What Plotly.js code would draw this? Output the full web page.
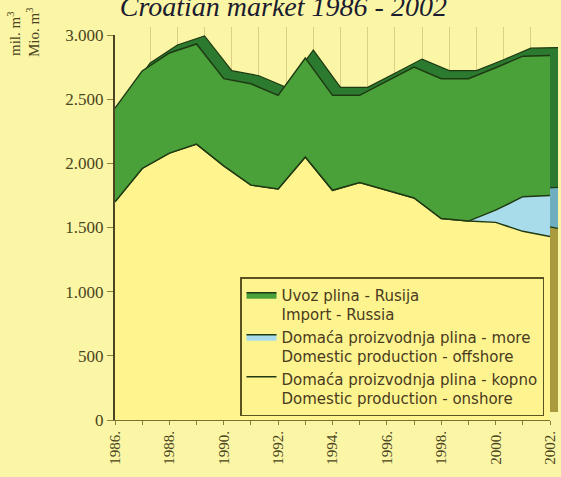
<!DOCTYPE html>
<html><head><meta charset="utf-8">
<script src="https://cdn.plot.ly/plotly-3.0.1.min.js"></script>
<style>html,body{margin:0;padding:0;background:#fbf6a6;}#c{width:561px;height:477px;}</style>
</head><body><div id="c"></div>
<script>
const years = [1986,1987,1988,1989,1990,1991,1992,1993,1994,1995,1996,1997,1998,1999,2000,2001,2002];
const onshore = [1700,1960,2080,2150,1980,1830,1800,2050,1790,1850,1790,1730,1570,1550,1540,1470,1430];
const offshore = [0,0,0,0,0,0,0,0,0,0,0,0,0,0,95,270,320];
const importRussia = [730,760,780,780,680,790,730,770,740,680,850,1020,1090,1110,1110,1095,1090];
const seriesNames = [
  'Domaća proizvodnja plina - kopno<br>Domestic production - onshore',
  'Domaća proizvodnja plina - more<br>Domestic production - offshore',
  'Uvoz plina - Rusija<br>Import - Russia'
];
const yTickVals = [0,500,1000,1500,2000,2500,3000];
const yTickText = ['0','500','1.000','1.500','2.000','2.500','3.000'];
const xTickText = years.map(y => (y % 2 === 0) ? y + '.' : '');

const seriesData = [onshore, offshore, importRussia];
const frontColors = ['#fff48e', '#a8dcea', '#4aa13a'];
const backColors = ['#a99a3e', '#6eaebf', '#2c7a30'];
const legendRanks = [3, 2, 1];
const outline = '#1f3a12';

const traces = [];
// back (depth) faces on subplot xy
seriesData.forEach((d, i) => {
  traces.push({
    x: years, y: d, xaxis: 'x', yaxis: 'y', type: 'scatter', mode: 'lines',
    stackgroup: 'back', fillcolor: backColors[i],
    line: {color: outline, width: 1.2}, showlegend: false, hoverinfo: 'skip'
  });
});
// front faces on subplot x2y2
seriesData.forEach((d, i) => {
  traces.push({
    x: years, y: d, xaxis: 'x2', yaxis: 'y2', type: 'scatter', mode: 'lines',
    stackgroup: 'front', fillcolor: frontColors[i], name: seriesNames[i],
    legendgroup: 'g' + i, legendrank: legendRanks[i],
    line: {color: outline, width: 1.5}
  });
});

const W = 561, H = 477, L = 115, R = 3, T = 27, B = 57;
const pw = W - L - R, ph = H - T - B, depth = 8;
const txt = '#4a4420';

const layout = {
  width: W, height: H,
  margin: {l: L, r: R, t: T, b: B},
  paper_bgcolor: '#fbf6a6', plot_bgcolor: 'rgba(0,0,0,0)',
  title: {text: '<i>Croatian market 1986 - 2002</i>', x: 0.505, xanchor: 'center', y: 0.986, yanchor: 'middle',
          font: {family: 'Liberation Serif', size: 28, color: '#1c1c30'}},
  showlegend: true,
  legend: {x: (240 - L) / pw, y: (H - B - 277) / ph, xanchor: 'left', yanchor: 'top',
           bgcolor: '#fdf48f', bordercolor: '#5a5220', borderwidth: 1.5,
           font: {family: 'DejaVu Sans', size: 15, color: '#4a3a20'},
           itemwidth: 30,
           traceorder: 'grouped', tracegroupgap: 0, valign: 'top'},
  // back subplot
  xaxis: {domain: [depth / pw, 1], range: [1986, 2002], anchor: 'y', dtick: 1,
          showgrid: true, gridcolor: '#d9cf86', gridwidth: 1, showticklabels: false, ticks: '',
          zeroline: false, showline: false, fixedrange: true},
  yaxis: {domain: [depth / ph, 1], range: [0, 3000], anchor: 'x', showgrid: false,
          showticklabels: false, ticks: '', zeroline: false, showline: false, fixedrange: true},
  // front subplot
  xaxis2: {domain: [0, (pw - depth) / pw], range: [1986, 2002], anchor: 'y2', tickvals: years, ticktext: xTickText,
          tickangle: -90, tickfont: {family: 'Liberation Serif', size: 15, color: txt},
          ticks: 'outside', ticklen: 4, tickcolor: '#8a8040', showgrid: false, zeroline: false,
          showline: true, linecolor: '#7a7030', linewidth: 1, fixedrange: true},
  yaxis2: {domain: [0, (ph - depth) / ph], range: [0, 3000], anchor: 'x2', tickvals: yTickVals, ticktext: yTickText,
          tickfont: {family: 'Liberation Serif', size: 17, color: txt}, ticks: 'outside', ticklen: 6,
          tickcolor: '#8a8040', showgrid: false,
          zeroline: false, showline: true, linecolor: txt, linewidth: 2, fixedrange: true},
  annotations: [
    {text: 'mil. m<sup>3</sup>', xref: 'paper', yref: 'paper', x: -101 / pw, y: (H - B - 34) / ph,
     xanchor: 'center', yanchor: 'middle',
     textangle: -90, showarrow: false, font: {family: 'Liberation Serif', size: 15, color: txt}},
    {text: 'Mio. m<sup>3</sup>', xref: 'paper', yref: 'paper', x: -82 / pw, y: (H - B - 33) / ph,
     xanchor: 'center', yanchor: 'middle',
     textangle: -90, showarrow: false, font: {family: 'Liberation Serif', size: 15, color: txt}}
  ]
};
Plotly.newPlot('c', traces, layout, {displayModeBar: false, staticPlot: true});
</script>
</body></html>
